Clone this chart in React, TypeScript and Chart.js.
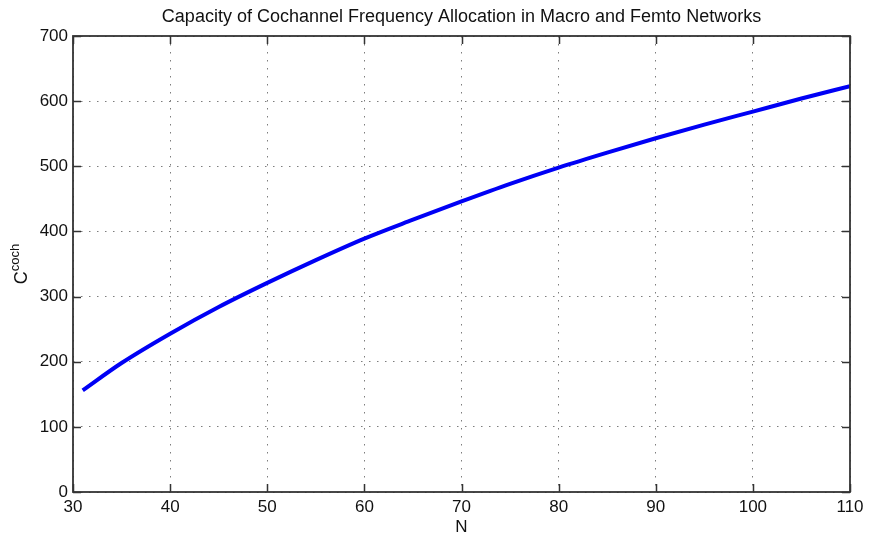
import React, { useEffect, useRef } from "react";
import { Chart, registerables } from "chart.js";

Chart.register(...registerables);

const TITLE = "Capacity of Cochannel Frequency Allocation in Macro and Femto Networks";
const X_LABEL = "N";
const Y_LABEL_MAIN = "C";
const Y_LABEL_SUP = "coch";

const nValues = [31, 35, 40, 45, 50, 55, 60, 65, 70, 75, 80, 85, 90, 95, 100, 105, 110];
const capacity = [156, 198, 243, 284, 321, 356, 389, 418, 446, 473, 498, 521, 543, 564, 584, 604, 623];

const X_MIN = 30;
const X_MAX = 110;
const X_STEP = 10;
const Y_MIN = 0;
const Y_MAX = 700;
const Y_STEP = 100;

const FONT = "'Liberation Sans', Arial, Helvetica, sans-serif";

const framePlugin = {
  id: "matlabFrame",
  afterDatasetsDraw(chart: any) {
    const { ctx, chartArea, scales } = chart;
    const { left, right, top, bottom } = chartArea;
    const tl = 8;
    ctx.save();
    ctx.strokeStyle = "#333";
    ctx.lineWidth = 1.5;
    ctx.beginPath();
    scales.x.ticks.forEach((t: any) => {
      const px = Math.round(scales.x.getPixelForValue(t.value)) + 0.5;
      ctx.moveTo(px, bottom);
      ctx.lineTo(px, bottom - tl);
      ctx.moveTo(px, top);
      ctx.lineTo(px, top + tl);
    });
    scales.y.ticks.forEach((t: any) => {
      const py = Math.round(scales.y.getPixelForValue(t.value)) + 0.5;
      ctx.moveTo(left, py);
      ctx.lineTo(left + tl, py);
      ctx.moveTo(right, py);
      ctx.lineTo(right - tl, py);
    });
    ctx.stroke();
    ctx.lineWidth = 1.8;
    ctx.strokeRect(left, top, right - left, bottom - top);
    ctx.restore();
  },
  afterDraw(chart: any) {
    const { ctx, chartArea } = chart;
    const cy = (chartArea.top + chartArea.bottom) / 2;
    ctx.save();
    ctx.translate(27, cy);
    ctx.rotate(-Math.PI / 2);
    ctx.fillStyle = "#111";
    ctx.textBaseline = "alphabetic";
    ctx.font = `18px ${FONT}`;
    const wMain = ctx.measureText(Y_LABEL_MAIN).width;
    ctx.font = `13px ${FONT}`;
    const wSup = ctx.measureText(Y_LABEL_SUP).width;
    const total = wMain + wSup;
    ctx.font = `18px ${FONT}`;
    ctx.textAlign = "left";
    ctx.fillText(Y_LABEL_MAIN, -total / 2, 0);
    ctx.font = `13px ${FONT}`;
    ctx.fillText(Y_LABEL_SUP, -total / 2 + wMain, -8);
    ctx.restore();
  },
};

export default function App() {
  const ref = useRef<HTMLCanvasElement | null>(null);
  useEffect(() => {
    document.body.style.margin = "0";
    const canvas = ref.current!;
    const chart = new Chart(canvas, {
      type: "line",
      data: {
        datasets: [
          {
            data: nValues.map((n, i) => ({ x: n, y: capacity[i] })),
            borderColor: "rgb(0,0,245)",
            borderWidth: 4,
            pointRadius: 0,
            fill: false,
            cubicInterpolationMode: "monotone",
          },
        ],
      },
      options: {
        responsive: false,
        animation: false,
        devicePixelRatio: 1,
        layout: { padding: { left: 0, right: 19, top: 0, bottom: 0 } },
        plugins: {
          legend: { display: false },
          tooltip: { enabled: false },
          title: {
            display: true,
            fullSize: false,
            text: TITLE,
            color: "#111",
            font: { family: FONT, size: 18, weight: "normal" },
            padding: { top: 6, bottom: 8.4 },
          },
        },
        scales: {
          x: {
            type: "linear",
            min: X_MIN,
            max: X_MAX,
            ticks: {
              stepSize: X_STEP,
              color: "#111",
              font: { family: FONT, size: 17 },
              padding: 5,
              maxRotation: 0,
            },
            grid: {
              color: "rgba(70,70,70,0.7)",
              lineWidth: 1,
              drawTicks: false,
            },
            border: { display: false, dash: [1.5, 6.5] },
            title: {
              display: true,
              text: X_LABEL,
              color: "#111",
              font: { family: FONT, size: 17 },
              padding: { top: 0, bottom: 0 },
            },
            afterFit(scale: any) {
              scale.height = 46;
            },
          },
          y: {
            type: "linear",
            min: Y_MIN,
            max: Y_MAX,
            ticks: {
              stepSize: Y_STEP,
              color: "#111",
              font: { family: FONT, size: 17 },
              padding: 5,
            },
            grid: {
              color: "rgba(70,70,70,0.7)",
              lineWidth: 1,
              drawTicks: false,
            },
            border: { display: false, dash: [1.5, 6.5] },
            afterFit(scale: any) {
              scale.width = 73;
            },
          },
        },
      },
      plugins: [framePlugin],
    });
    return () => chart.destroy();
  }, []);
  return (
    <div style={{ position: "absolute", left: 0, top: 0, width: 869, height: 538, background: "#fff" }}>
      <canvas ref={ref} width={869} height={538} />
    </div>
  );
}
